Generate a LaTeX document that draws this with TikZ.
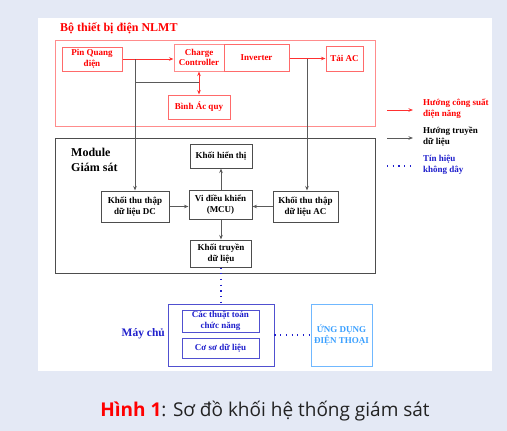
\documentclass[tikz,border=0pt]{standalone}
\usepackage{fontspec}
\setmainfont{Liberation Serif}
\newfontfamily\capfont{Open Sans}
\usetikzlibrary{arrows.meta}
\definecolor{bgblue}{HTML}{E4E9F5}
\definecolor{boxred}{HTML}{FF6A6A}
\definecolor{outred}{HTML}{FF8C8C}
\definecolor{arrred}{HTML}{FF3030}
\definecolor{datagray}{HTML}{5A5A5A}
\definecolor{modgray}{HTML}{4D4D4D}
\definecolor{bluetxt}{HTML}{1F1FCC}
\definecolor{srvblue}{HTML}{5050D0}
\definecolor{appblue}{HTML}{70B8FF}
\definecolor{apptxt}{HTML}{3AA0FF}
\definecolor{captxt}{HTML}{222222}
\begin{document}
\begin{tikzpicture}[x=1pt,y=-1pt,
  every node/.style={font=\bfseries\fontsize{9}{10.5}\selectfont, align=center, inner sep=0pt},
  rbox/.style={draw=boxred, text=red, line width=1pt},
  kbox/.style={draw=modgray, text=black, line width=1pt},
  sbox/.style={draw=srvblue, text=bluetxt, line width=1pt},
  power/.style={draw=arrred, line width=1pt, -{Stealth[length=4.5pt,width=3.5pt]}},
  data/.style={draw=datagray, line width=1pt, -{Stealth[length=4.5pt,width=3.5pt]}},
  plainline/.style={draw=datagray, line width=1pt},
  wireless/.style={draw=bluetxt, line width=1.2pt, dash pattern=on 1.2pt off 4.5pt},
  legtxt/.style={align=left, anchor=west, font=\bfseries\fontsize{9}{11}\selectfont}
]
% background
\fill[bgblue] (0,0) rectangle (507,431);
\fill[white] (38,18) rectangle (492,371);
\useasboundingbox (0,0) rectangle (507,431);

% red group
\draw[outred, line width=0.9pt] (55,40) rectangle (375,126);
\node[anchor=base west, text=red, font=\bfseries\fontsize{12}{14}\selectfont] (title) at (60,31) {Bộ thiết bị điện NLMT};

\node[rbox, minimum width=60, minimum height=24] (pin) at (92,59) {Pin Quang\\điện};
\node[rbox, draw=outred, minimum width=50, minimum height=27] (charge) at (199,57.5) {Charge\\Controller};
\node[rbox, minimum width=65, minimum height=27] (inv) at (256.5,57.5) {Inverter};
\node[rbox, minimum width=37, minimum height=25] (tai) at (344.5,58.5) {Tải AC};
\node[rbox, minimum width=62, minimum height=24] (binh) at (199,107) {Bình Ác quy};

% module
\draw[modgray, line width=0.9pt] (55,138) rectangle (375,273);
\node[anchor=north west, align=left, text=black, font=\bfseries\fontsize{12}{15}\selectfont] (modlbl) at (71,148) {Module\\Giám sát};

\node[kbox, minimum width=62, minimum height=24] (hien) at (221,156) {Khối hiển thị};
\node[kbox, minimum width=63, minimum height=29] (mcu) at (220.5,204.5) {Vi điều khiển\\(MCU)};
\node[kbox, minimum width=68, minimum height=31] (dc) at (135,206.5) {Khối thu thập\\dữ liệu DC};
\node[kbox, minimum width=65, minimum height=31] (ac) at (305.5,206.5) {Khối thu thập\\dữ liệu AC};
\node[kbox, minimum width=61, minimum height=27] (truyen) at (221,253.5) {Khối truyền\\dữ liệu};

% server
\node[draw=srvblue, line width=0.9pt, minimum width=106, minimum height=62] (server) at (221,335) {};
\node[sbox, minimum width=77, minimum height=22] (algo) at (220.5,321) {Các thuật toán\\chức năng};
\node[sbox, minimum width=77, minimum height=20] (db) at (220.5,348) {Cơ sơ dữ liệu};
\node[anchor=east, text=bluetxt, font=\bfseries\fontsize{11.5}{13}\selectfont] (srvlbl) at (165,334) {Máy chủ};
\node[draw=appblue, text=apptxt, line width=0.9pt, minimum width=61, minimum height=62] (app) at (341.5,335) {ỨNG DỤNG\\ĐIỆN THOẠI};

% power arrows
\draw[power] (pin.east) -- (pin.east -| charge.west);
\draw[power] (inv.east |- tai.west) -- (tai.west);
\draw[draw=arrred, line width=1pt, {Stealth[length=4.5pt,width=3.5pt]}-{Stealth[length=4.5pt,width=3.5pt]}] (charge.south) -- (binh.north);

% data lines
\coordinate (tapdc) at (135,59);
\coordinate (tapbat) at (135,82);
\coordinate (batj) at (199,82);
\coordinate (tapac) at (307,58.5);
\draw[data] (tapdc) -- (dc.north);
\draw[plainline] (tapbat) -- (batj);
\draw[data] (tapac) -- (tapac |- ac.north);
\draw[data] (dc.east) -- (mcu.west |- dc.east);
\draw[data] (ac.west) -- (mcu.east |- ac.west);
\draw[data] (mcu.north -| hien.south) -- (hien.south);
\draw[data] (mcu.south -| truyen.north) -- (truyen.north);

% wireless
\draw[wireless] (truyen.south) -- (truyen.south |- server.north);
\draw[wireless] (server.east) -- (app.west);

% legend
\coordinate (lra) at (387,110);
\coordinate (lrb) at (413,110);
\coordinate (lka) at (387,138);
\coordinate (lkb) at (413,138);
\coordinate (lba) at (387,166);
\coordinate (lbb) at (411,166);
\draw[power] (lra) -- (lrb);
\draw[data] (lka) -- (lkb);
\draw[wireless] (lba) -- (lbb);
\node[legtxt, text=red] (leg1) at (423,109) {Hướng công suất\\điện năng};
\node[legtxt, text=black] (leg2) at (423,137) {Hướng truyền\\dữ liệu};
\node[legtxt, text=bluetxt] (leg3) at (423,165) {Tín hiệu\\không dây};

% caption
\node[anchor=base, font=\capfont\fontsize{19}{22}\selectfont, text=captxt] (cap) at (265,416) {\textcolor{red}{\bfseries Hình 1}: Sơ đồ khối hệ thống giám sát};
\end{tikzpicture}
\end{document}
